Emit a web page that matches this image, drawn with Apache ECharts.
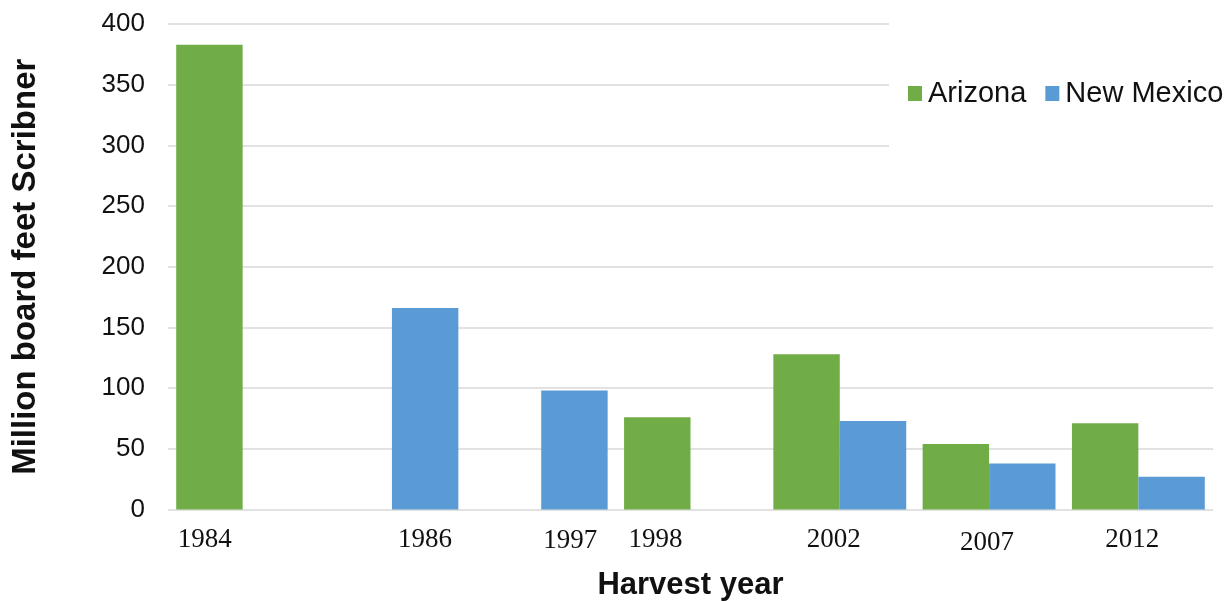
<!DOCTYPE html>
<html>
<head>
<meta charset="utf-8">
<script src="https://cdn.jsdelivr.net/npm/echarts@6/dist/echarts.min.js"></script>
<style>
html,body{margin:0;padding:0;background:#fff;}
#chart{width:1231px;height:601px;}
</style>
</head>
<body>
<div id="chart"></div>
<script>
// ---- data ----
var years = ['1984', '1986', '1997', '1998', '2002', '2007', '2012'];
var arizona = [383, null, null, 76, 128, 54, 71];
var newMexico = [null, 166, 98, null, 73, 38, 27];
var yTicks = [0, 50, 100, 150, 200, 250, 300, 350, 400];
var seriesNames = ['Arizona', 'New Mexico'];

// ---- layout: per-label horizontal nudge (px) and vertical nudge, to mimic hand-placed labels ----
var labelNudgeX = [-38, 33, 29, -35, -6, -2, -6];
var labelNudgeY = [0, 0, 1, 0, 0, 3, 0];

var rich = {};
years.forEach(function (y, i) {
  var dx = labelNudgeX[i], dy = labelNudgeY[i];
  rich['l' + i] = {
    fontFamily: 'Liberation Serif',
    fontSize: 27,
    color: '#111',
    padding: [dy, dx < 0 ? -2 * dx : 0, 0, dx > 0 ? 2 * dx : 0]
  };
});

var chart = echarts.init(document.getElementById('chart'));
chart.setOption({
  animation: false,
  backgroundColor: '#fff',
  grid: { left: 168, right: 18, top: 24, bottom: 91.5, containLabel: false, outerBoundsMode: 'none' },
  legend: {
    data: seriesNames,
    orient: 'horizontal',
    left: 889,
    top: 20,
    width: 342,
    padding: [59, 0, 52, 19],
    backgroundColor: '#fff',
    itemWidth: 14,
    itemHeight: 15,
    itemGap: 19,
    icon: 'rect',
    textStyle: { fontFamily: 'Liberation Sans', fontSize: 29, color: '#111', padding: [0, 0, 0, 1] }
  },
  xAxis: {
    type: 'category',
    data: years,
    name: 'Harvest year',
    nameLocation: 'middle',
    nameGap: 60,
    nameTextStyle: { fontFamily: 'Liberation Sans', fontSize: 31, fontWeight: 'bold', color: '#111' },
    axisLine: { show: false },
    axisTick: { show: false },
    axisLabel: {
      interval: 0,
      margin: 17,
      formatter: function (v, i) { return '{l' + i + '|' + v + '}'; },
      rich: rich
    }
  },
  yAxis: {
    type: 'value',
    min: yTicks[0],
    max: yTicks[yTicks.length - 1],
    interval: yTicks[1] - yTicks[0],
    name: 'Million board feet Scribner',
    nameLocation: 'middle',
    nameGap: 126,
    nameTextStyle: { fontFamily: 'Liberation Sans', fontSize: 33, fontWeight: 'bold', color: '#111' },
    axisLine: { show: false },
    axisTick: { show: false },
    axisLabel: { margin: 23, fontFamily: 'Liberation Sans', fontSize: 26, color: '#111' },
    splitLine: { lineStyle: { color: '#d9d9d9', width: 1.5 } }
  },
  series: [
    {
      name: seriesNames[0],
      type: 'bar',
      data: arizona,
      barGap: '0%',
      barCategoryGap: '11%',
      itemStyle: { color: '#70AD47' }
    },
    {
      name: seriesNames[1],
      type: 'bar',
      data: newMexico,
      barGap: '0%',
      barCategoryGap: '11%',
      itemStyle: { color: '#5B9BD5' }
    }
  ]
});
</script>
</body>
</html>
